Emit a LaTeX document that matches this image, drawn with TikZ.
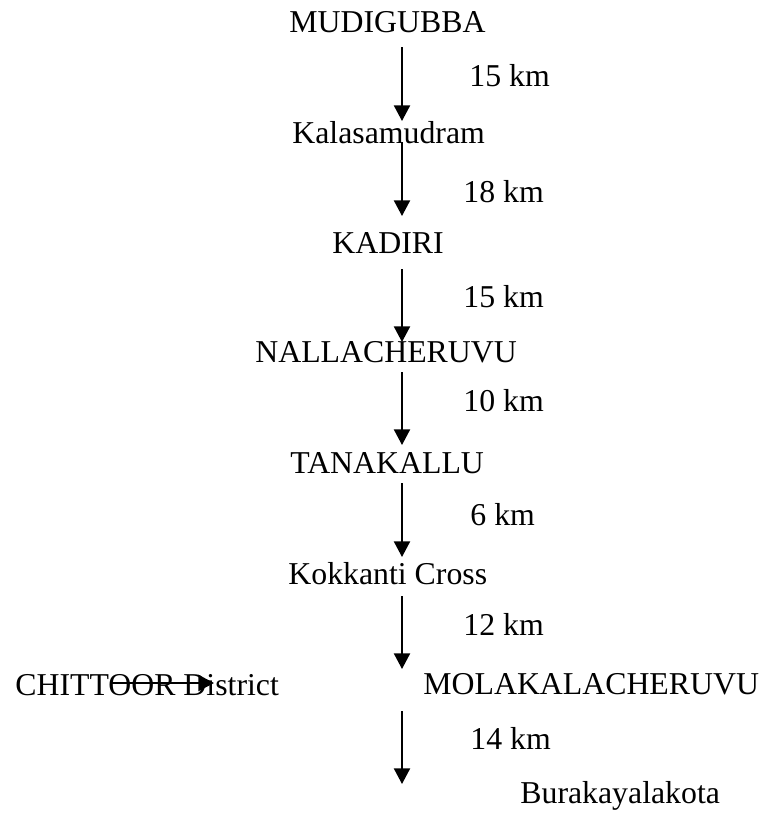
\documentclass[tikz,border=0pt]{standalone}
\usepackage{fontspec}
\setmainfont{Liberation Serif}
\usetikzlibrary{arrows.meta}
\begin{document}
\begin{tikzpicture}[x=0.5pt,y=-0.5pt,
  place/.style={anchor=base west,inner sep=0pt,font=\fontsize{15.9pt}{18pt}\selectfont},
  dist/.style={place},
  road/.style={line width=1pt,-{Triangle[length=7.8pt,width=8pt]}}]
\useasboundingbox (0,0) rectangle (764,816);
% places
\node[place] (mud) at (289,32) {MUDIGUBBA};
\node[place] (kal) at (292,143) {Kalasamudram};
\node[place] (kad) at (332,253) {KADIRI};
\node[place] (nal) at (255,362) {NALLACHERUVU};
\node[place] (tan) at (290,473) {TANAKALLU};
\node[place] (kok) at (288,584) {Kokkanti Cross};
\node[place] (mol) at (423,694) {MOLAKALACHERUVU};
\node[place] (bur) at (520,803) {Burakayalakota};
\node[place] (chi) at (15,695) {CHITTOOR District};
% distances
\node[dist] (d1) at (469,86) {15 km};
\node[dist] (d2) at (463,202) {18 km};
\node[dist] (d3) at (463,307) {15 km};
\node[dist] (d4) at (463,411) {10 km};
\node[dist] (d5) at (470,525) {6 km};
\node[dist] (d6) at (463,635) {12 km};
\node[dist] (d7) at (470,749) {14 km};
% arrow ends
\coordinate (s1) at (402,47);  \coordinate (e1) at (402,121);
\coordinate (s2) at (402,142); \coordinate (e2) at (402,216);
\coordinate (s3) at (402,269); \coordinate (e3) at (402,342);
\coordinate (s4) at (402,372); \coordinate (e4) at (402,445);
\coordinate (s5) at (402,483); \coordinate (e5) at (402,557);
\coordinate (s6) at (402,596); \coordinate (e6) at (402,669);
\coordinate (s7) at (402,711); \coordinate (e7) at (402,784);
\coordinate (cs) at (110,683); \coordinate (ce) at (214,683);
\draw[road] (s1) -- (e1);
\draw[road] (s2) -- (e2);
\draw[road] (s3) -- (e3);
\draw[road] (s4) -- (e4);
\draw[road] (s5) -- (e5);
\draw[road] (s6) -- (e6);
\draw[road] (s7) -- (e7);
\draw[road] (cs) -- (ce);
\end{tikzpicture}
\end{document}
